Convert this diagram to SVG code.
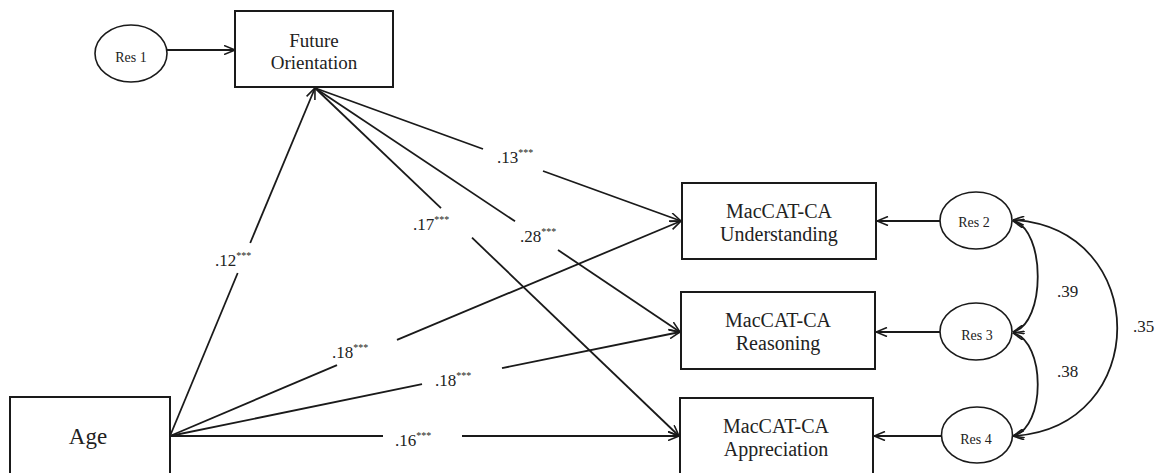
<svg xmlns="http://www.w3.org/2000/svg" width="1157" height="473" viewBox="0 0 1157 473" font-family="'Liberation Serif', 'DejaVu Serif', serif">
<style>
.box{fill:#fff;stroke:#1a1a1a;stroke-width:2}
.ell{fill:#fff;stroke:#1a1a1a;stroke-width:1.6}
.ln{fill:none;stroke:#1a1a1a;stroke-width:1.8}
text{font-family:'Liberation Serif','DejaVu Serif',serif;fill:#222}
.bt{font-size:20px;text-anchor:middle}
.rt{font-size:14px;text-anchor:middle}
.lb{font-size:17px}
.sup{font-size:10px}
</style>
<defs>
<marker id="ah" viewBox="0 0 12 10" refX="11.5" refY="5" markerWidth="12" markerHeight="10" markerUnits="userSpaceOnUse" orient="auto-start-reverse">
<path d="M0.5,0.5 L11.5,5 L0.5,9.5" fill="none" stroke="#1a1a1a" stroke-width="1.6"/>
</marker>
</defs>
<rect width="1157" height="473" fill="#fff"/>
<g id="connectors">
<path class="ln" d="M167,50 L235,50" marker-end="url(#ah)"/>
<path class="ln" d="M170,436 L237.7,273"/>
<path class="ln" d="M250.2,243 L315,88" marker-end="url(#ah)"/>
<path class="ln" d="M315,88 L483,149"/>
<path class="ln" d="M543,171 L681,221" marker-end="url(#ah)"/>
<path class="ln" d="M315,88 L515,221.3"/>
<path class="ln" d="M558,250 L680,332" marker-end="url(#ah)"/>
<path class="ln" d="M315,88 L441,208.1"/>
<path class="ln" d="M472,237.7 L679,436" marker-end="url(#ah)"/>
<path class="ln" d="M170,436 L337,365.1"/>
<path class="ln" d="M397,339.9 L681,221" marker-end="url(#ah)"/>
<path class="ln" d="M170,436 L422,384.2"/>
<path class="ln" d="M502,368.1 L680,332" marker-end="url(#ah)"/>
<path class="ln" d="M170,436 L383,436"/>
<path class="ln" d="M462,436 L679,436" marker-end="url(#ah)"/>
<path class="ln" d="M940,221 L877,221" marker-end="url(#ah)"/>
<path class="ln" d="M940,332 L876,332" marker-end="url(#ah)"/>
<path class="ln" d="M941,436 L874,436" marker-end="url(#ah)"/>
<path class="ln" d="M1013,221 C1046,229 1046,324 1013,332" marker-start="url(#ah)" marker-end="url(#ah)"/>
<path class="ln" d="M1013,333 C1046,341 1046,428 1013,436" marker-start="url(#ah)" marker-end="url(#ah)"/>
<path class="ln" d="M1013,220 C1152,228 1152,428 1013,436" marker-start="url(#ah)" marker-end="url(#ah)"/>
<text class="lb" x="215" y="266">.12<tspan class="sup" dy="-7">***</tspan></text>
<text class="lb" x="497" y="163">.13<tspan class="sup" dy="-7">***</tspan></text>
<text class="lb" x="520" y="242">.28<tspan class="sup" dy="-7">***</tspan></text>
<text class="lb" x="413" y="230">.17<tspan class="sup" dy="-7">***</tspan></text>
<text class="lb" x="332" y="358">.18<tspan class="sup" dy="-7">***</tspan></text>
<text class="lb" x="435" y="386">.18<tspan class="sup" dy="-7">***</tspan></text>
<text class="lb" x="395" y="446">.16<tspan class="sup" dy="-7">***</tspan></text>
<text class="lb" x="1057" y="297">.39</text>
<text class="lb" x="1057" y="377">.38</text>
<text class="lb" x="1133" y="332">.35</text>
</g>
<g id="res1">
<ellipse class="ell" cx="131" cy="53.5" rx="36" ry="28.5"/>
<text class="rt" x="131" y="62">Res 1</text>
</g>
<g id="future-orientation">
<rect class="box" x="235" y="11" width="158" height="76"/>
<text class="bt" x="314" y="47" style="font-size:19px">Future</text>
<text class="bt" x="314" y="69" style="font-size:19px">Orientation</text>
</g>
<g id="age">
<rect class="box" x="10" y="397" width="160" height="90"/>
<text class="bt" x="88" y="444" style="font-size:23px">Age</text>
</g>
<g id="understanding">
<rect class="box" x="682" y="183" width="194" height="76"/>
<text class="bt" x="779" y="218">MacCAT-CA</text>
<text class="bt" x="779" y="241">Understanding</text>
</g>
<g id="reasoning">
<rect class="box" x="681" y="292" width="194" height="77"/>
<text class="bt" x="778" y="327">MacCAT-CA</text>
<text class="bt" x="778" y="350">Reasoning</text>
</g>
<g id="appreciation">
<rect class="box" x="680" y="398" width="193" height="90"/>
<text class="bt" x="776" y="433">MacCAT-CA</text>
<text class="bt" x="776" y="456">Appreciation</text>
</g>
<g id="res2">
<ellipse class="ell" cx="976" cy="220.5" rx="36" ry="28.5"/>
<text class="rt" x="974" y="227">Res 2</text>
</g>
<g id="res3">
<ellipse class="ell" cx="976" cy="331.5" rx="36" ry="28.5"/>
<text class="rt" x="977" y="340">Res 3</text>
</g>
<g id="res4">
<ellipse class="ell" cx="977" cy="435" rx="35.5" ry="28"/>
<text class="rt" x="976" y="444">Res 4</text>
</g>
</svg>
